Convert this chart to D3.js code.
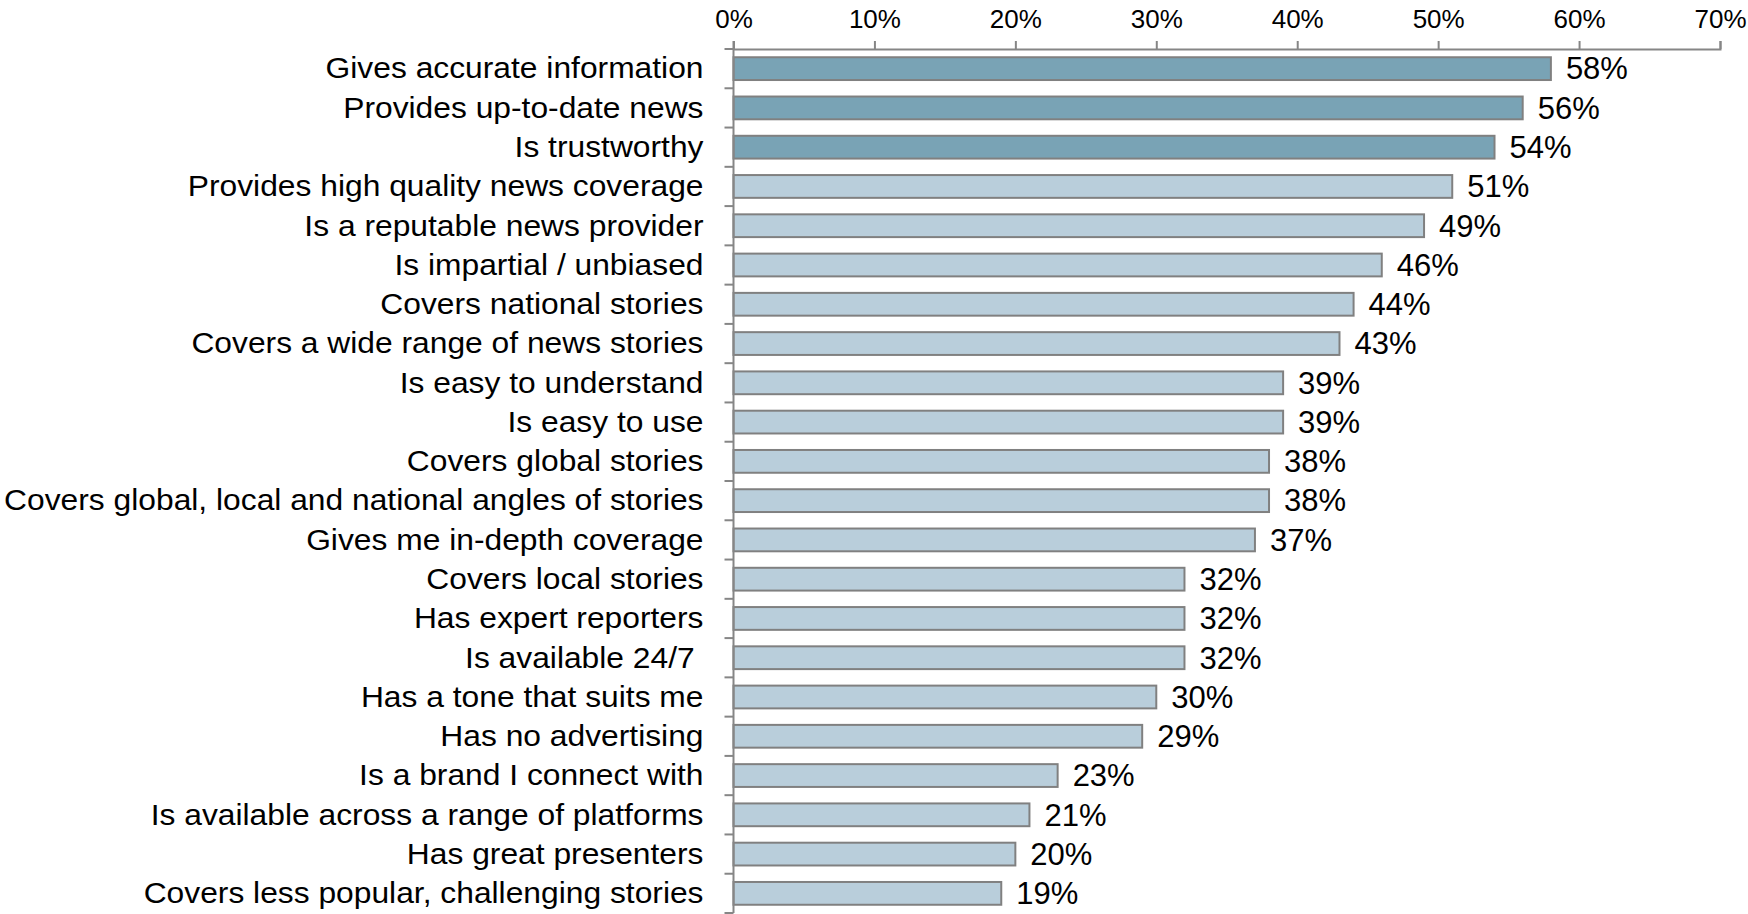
<!DOCTYPE html>
<html>
<head>
<meta charset="utf-8">
<script src="https://cdn.jsdelivr.net/npm/d3@7"></script>
<style>
  html, body { margin: 0; padding: 0; background: #ffffff; }
  svg { display: block; }
  text { font-family: "Liberation Sans", Arial, sans-serif; fill: #000; }
</style>
</head>
<body>
<svg id="chart" width="1748" height="914"></svg>
<script>
// Attributes and share of respondents choosing each one
const categories = [
  "Gives accurate information",
  "Provides up-to-date news",
  "Is trustworthy",
  "Provides high quality news coverage",
  "Is a reputable news provider",
  "Is impartial / unbiased",
  "Covers national stories",
  "Covers a wide range of news stories",
  "Is easy to understand",
  "Is easy to use",
  "Covers global stories",
  "Covers global, local and national angles of stories",
  "Gives me in-depth coverage",
  "Covers local stories",
  "Has expert reporters",
  "Is available 24/7 ",
  "Has a tone that suits me",
  "Has no advertising",
  "Is a brand I connect with",
  "Is available across a range of platforms",
  "Has great presenters",
  "Covers less popular, challenging stories"
];
const values = [58, 56, 54, 51, 49, 46, 44, 43, 39, 39, 38, 38, 37, 32, 32, 32, 30, 29, 23, 21, 20, 19];
const highlighted = [true, true, true, false, false, false, false, false, false, false, false,
                     false, false, false, false, false, false, false, false, false, false, false];
const tickValues = [0, 10, 20, 30, 40, 50, 60, 70];

const svg = d3.select("#chart");
const margin = { left: 733.5, right: 28, top: 49, bottom: 1 };
const W = 1748, H = 914;

const x = d3.scaleLinear().domain([0, 70]).range([margin.left, W - margin.right]);
const y = d3.scaleBand().domain(categories).range([margin.top, H - margin.bottom]).paddingInner(0.42).paddingOuter(0.21);

const axisColor = "#868686";

// Bars
svg.append("g").selectAll("rect")
  .data(values)
  .join("rect")
  .attr("x", x(0))
  .attr("y", (d, i) => y(categories[i]))
  .attr("width", d => x(d) - x(0))
  .attr("height", y.bandwidth())
  .attr("fill", (d, i) => highlighted[i] ? "#79a3b5" : "#b9cedb")
  .attr("stroke", "#808080")
  .attr("stroke-width", 2);

// Top value axis
const xAxis = d3.axisTop(x).tickValues(tickValues).tickFormat(d => d + "%").tickSizeOuter(0).tickSize(8).tickPadding(13);
const gx = svg.append("g").attr("transform", `translate(0,${margin.top})`).call(xAxis);
gx.select(".domain").attr("stroke", axisColor).attr("stroke-width", 2);
gx.selectAll(".tick line").attr("stroke", axisColor).attr("stroke-width", 2);
gx.selectAll(".tick text").attr("font-size", 26).attr("font-family", "Liberation Sans, Arial, sans-serif").attr("fill", "#000");

// Category axis: vertical line with ticks between bands
const gy = svg.append("g");
gy.append("line")
  .attr("x1", x(0)).attr("x2", x(0))
  .attr("y1", margin.top - 8).attr("y2", H - margin.bottom)
  .attr("stroke", axisColor).attr("stroke-width", 2);
const boundaries = d3.range(categories.length + 1).map(i => margin.top + i * (H - margin.bottom - margin.top) / categories.length);
gy.selectAll("line.sep")
  .data(boundaries)
  .join("line")
  .attr("class", "sep")
  .attr("x1", x(0) - 9).attr("x2", x(0))
  .attr("y1", d => d).attr("y2", d => d)
  .attr("stroke", axisColor).attr("stroke-width", 2);

// Category labels (slightly widened face)
svg.append("g").selectAll("text")
  .data(categories)
  .join("text")
  .attr("transform", d => `translate(${x(0) - 30},${y(d) + y.bandwidth() / 2}) scale(1.07,1)`)
  .attr("dy", "0.33em")
  .attr("text-anchor", "end")
  .attr("font-size", 29.7)
  .style("white-space", "pre")
  .text(d => d);

// Value labels
svg.append("g").selectAll("text")
  .data(values)
  .join("text")
  .attr("x", d => x(d) + 15)
  .attr("y", (d, i) => y(categories[i]) + y.bandwidth() / 2)
  .attr("dy", "0.35em")
  .attr("font-size", 31)
  .text(d => d + "%");
</script>
</body>
</html>
